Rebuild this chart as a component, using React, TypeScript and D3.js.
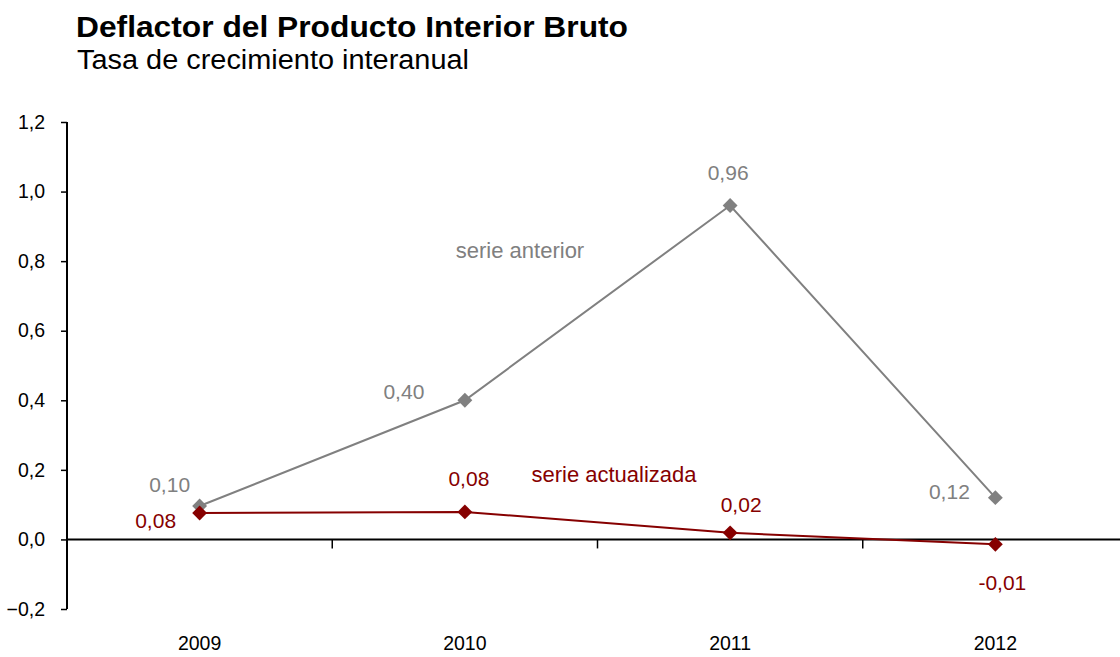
import { useEffect, useRef } from 'react'
import * as d3 from 'd3'

// categories and series
const YEARS = ['2009', '2010', '2011', '2012']
const SERIE_ANTERIOR = [0.096, 0.4, 0.96, 0.12]
const SERIE_ACTUALIZADA = [0.076, 0.079, 0.019, -0.014]
const Y_TICKS = [-0.2, 0, 0.2, 0.4, 0.6, 0.8, 1.0, 1.2]

// label offsets from each point (centre of text), in px
const ANTERIOR_LABEL_OFFSETS: [number, number][] = [[-30, -21], [-61, -9], [-2, -33], [-46, -6]]
const ACTUALIZADA_LABEL_OFFSETS: [number, number][] = [[-44, 8], [4, -33], [11, -28], [7, 38]]

const GREY = '#808080'
const RED = '#860000'
const FONT = '"Liberation Sans", Arial, sans-serif'

const fmt = (v: number) => {
  const r = Math.round(v * 100) / 100
  return (r < 0 ? '-' : '') + Math.abs(r).toFixed(2).replace('.', ',')
}

export default function App() {
  const svgRef = useRef<SVGSVGElement>(null)
  const width = 1120
  const height = 657

  useEffect(() => {
    if (!svgRef.current) return
    const svg = d3.select(svgRef.current)
    svg.selectAll('*').remove()

    const left = 67
    const x = d3.scaleBand().domain(YEARS).range([left, 1128]).padding(0)
    const y = d3.scaleLinear().domain([-0.2, 1.2]).range([609, 122])
    const cx = (d: string) => (x(d) || 0) + x.bandwidth() / 2

    // titles
    svg.append('text')
      .attr('x', 76).attr('y', 37)
      .attr('font-family', FONT).attr('font-size', 30).attr('font-weight', 'bold')
      .attr('textLength', 552).attr('lengthAdjust', 'spacingAndGlyphs')
      .text('Deflactor del Producto Interior  Bruto')
    svg.append('text')
      .attr('x', 77).attr('y', 69)
      .attr('font-family', FONT).attr('font-size', 27)
      .attr('textLength', 392).attr('lengthAdjust', 'spacingAndGlyphs')
      .text('Tasa de crecimiento interanual')

    // y axis
    const yAxis = d3.axisLeft(y)
      .tickValues(Y_TICKS)
      .tickSize(6)
      .tickPadding(16)
      .tickFormat(d => d3.format('.1f')(d as number).replace('.', ','))
    const gy = svg.append('g').attr('transform', `translate(${left},0)`).call(yAxis)
    gy.select('.domain').remove()
    gy.append('line').attr('x1', 0).attr('x2', 0).attr('y1', y(1.2)).attr('y2', y(-0.2))
      .attr('stroke', '#000').attr('stroke-width', 2)
    gy.selectAll('.tick line').attr('stroke', '#000').attr('stroke-width', 1.5)
    gy.selectAll('.tick text').attr('font-family', FONT).attr('font-size', 19.5).attr('fill', '#000')

    // x axis at zero
    const y0 = y(0)
    svg.append('line').attr('x1', left).attr('x2', 1128).attr('y1', y0).attr('y2', y0)
      .attr('stroke', '#000').attr('stroke-width', 2)
    YEARS.slice(1).forEach(d => {
      const tx = x(d) || 0
      svg.append('line').attr('x1', tx).attr('x2', tx).attr('y1', y0).attr('y2', y0 + 9)
        .attr('stroke', '#000').attr('stroke-width', 1.5)
    })
    svg.selectAll('.year')
      .data(YEARS)
      .join('text')
      .attr('class', 'year')
      .attr('x', d => cx(d))
      .attr('y', 650)
      .attr('text-anchor', 'middle')
      .attr('font-family', FONT).attr('font-size', 19.5)
      .text(d => d)

    const line = d3.line<number>().x((_, i) => cx(YEARS[i])).y(v => y(v))
    const marker = d3.symbol().type(d3.symbolSquare).size(110)

    const drawSeries = (values: number[], color: string, offsets: [number, number][]) => {
      svg.append('path').datum(values).attr('d', line)
        .attr('fill', 'none').attr('stroke', color).attr('stroke-width', 2)
      svg.selectAll(null).data(values).join('path')
        .attr('d', marker)
        .attr('transform', (v, i) => `translate(${cx(YEARS[i])},${y(v)}) rotate(45)`)
        .attr('fill', color)
      svg.selectAll(null).data(values).join('text')
        .attr('x', (v, i) => cx(YEARS[i]) + offsets[i][0])
        .attr('y', (v, i) => y(v) + offsets[i][1])
        .attr('dy', '0.35em')
        .attr('text-anchor', 'middle')
        .attr('font-family', FONT).attr('font-size', 21)
        .attr('fill', color)
        .text(v => fmt(v))
    }

    drawSeries(SERIE_ANTERIOR, GREY, ANTERIOR_LABEL_OFFSETS)
    drawSeries(SERIE_ACTUALIZADA, RED, ACTUALIZADA_LABEL_OFFSETS)

    // series names
    svg.append('text').attr('x', 520).attr('y', 250).attr('dy', '0.35em')
      .attr('text-anchor', 'middle').attr('font-family', FONT).attr('font-size', 22)
      .attr('fill', GREY).text('serie anterior')
    svg.append('text').attr('x', 614).attr('y', 474).attr('dy', '0.35em')
      .attr('text-anchor', 'middle').attr('font-family', FONT).attr('font-size', 22)
      .attr('fill', RED).text('serie actualizada')
  }, [])

  return (
    <svg
      ref={svgRef}
      width={width}
      height={height}
      style={{ position: 'absolute', left: 0, top: 0, background: '#fff' }}
    />
  )
}
